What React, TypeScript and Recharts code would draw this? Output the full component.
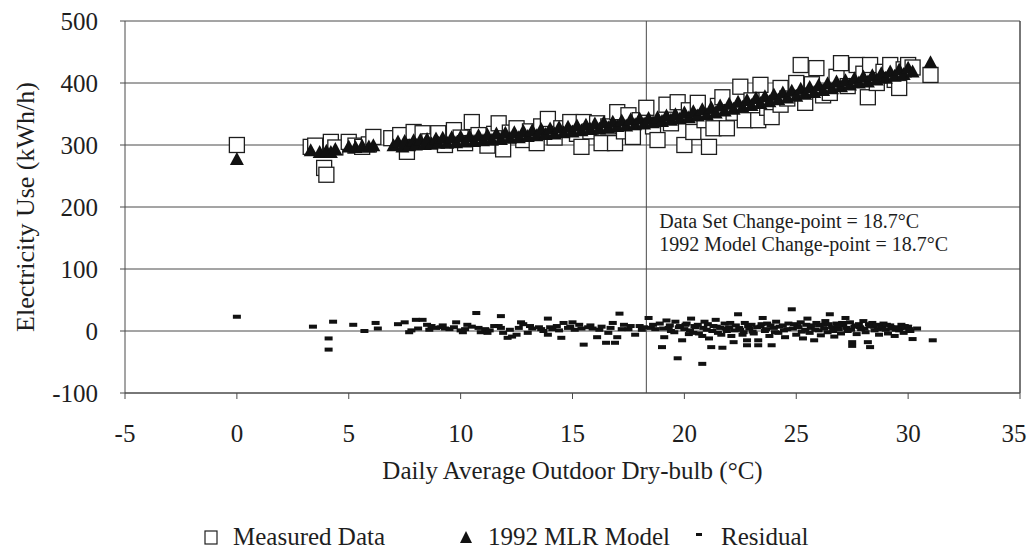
import {
  ScatterChart,
  Scatter,
  XAxis,
  YAxis,
  CartesianGrid,
  ReferenceLine,
  ReferenceDot,
  Legend,
} from 'recharts';

// Scanned figure look - serif text, grey rules, black marks
const FONT = "'Liberation Serif', 'Times New Roman', Times, serif";
const INK = '#1e1e1e';
const RULE = '#4a4a4a';
const TEXT_STYLE = { fontFamily: FONT, fill: INK };

const X_TICKS = [-5, 0, 5, 10, 15, 20, 25, 30, 35];
const Y_TICKS = [-100, 0, 100, 200, 300, 400, 500];
const CHANGE_POINT_X = 18.3;
const NOTES = ['Data Set Change-point = 18.7°C', '1992 Model Change-point = 18.7°C'];
const NOTE_Y = [177, 140];
const SERIES_NAMES = ['Measured Data', '1992 MLR Model', 'Residual'];
const X_TITLE = 'Daily Average Outdoor Dry-bulb (°C)';
const Y_TITLE = 'Electricity Use (kWh/h)';

// [temperature °C, kWh/h]
const measured: [number, number][] = [
  [0.0, 300],
  [3.3, 297], [3.5, 299], [3.9, 263], [4.0, 252], [4.2, 305], [4.4, 296],
  [5.0, 305], [5.3, 299], [5.6, 297], [5.9, 301], [6.1, 313],
  [6.9, 311], [7.3, 316], [7.6, 289], [7.9, 321], [8.3, 319], [8.6, 306], [9.0, 319], [9.3, 300],
  [9.7, 324], [10.0, 312], [10.2, 303], [10.5, 337], [10.8, 316], [11.2, 299], [11.5, 318], [11.7, 335],
  [11.9, 293], [12.2, 320], [12.5, 327], [12.8, 308], [13.1, 322], [13.4, 303], [13.6, 330], [13.9, 342],
  [14.2, 312], [14.5, 327], [14.9, 337], [15.2, 318], [15.4, 297], [15.5, 337], [15.8, 322], [16.1, 335],
  [16.3, 303], [16.6, 330], [16.9, 303], [17.0, 353], [17.3, 322], [17.5, 348], [17.7, 313], [18.0, 340],
  [18.3, 360], [18.6, 330], [18.8, 308], [19.2, 365], [19.4, 335], [19.7, 369], [20.0, 300], [20.2, 356],
  [20.4, 321], [20.6, 368], [20.9, 340], [21.1, 297], [21.3, 327], [21.5, 363], [21.7, 377], [21.9, 327],
  [22.2, 352], [22.5, 394], [22.7, 340], [23.0, 372], [23.3, 340], [23.4, 397], [23.7, 360], [23.9, 345],
  [24.3, 392], [24.3, 365], [24.6, 375], [25.0, 400], [25.2, 429], [25.4, 368], [25.7, 398], [25.9, 424],
  [26.2, 380], [26.5, 384], [26.8, 410], [27.0, 432], [27.3, 395], [27.7, 429], [28.0, 415], [28.2, 377],
  [28.3, 429], [28.6, 400], [28.9, 418], [29.2, 429], [29.4, 405], [29.6, 392], [29.8, 422], [30.0, 429],
  [30.2, 425], [31.0, 413],
];

const model: [number, number][] = [
  [0.0, 276],
  [3.3, 290], [3.7, 287], [4.0, 289], [4.2, 287], [4.4, 292],
  [5.0, 296], [5.3, 295], [5.6, 297], [5.9, 296], [6.1, 298],
  [7.0, 298], [7.2, 304], [7.4, 296], [7.5, 305], [7.7, 298], [7.9, 306], [8.0, 299], [8.2, 307],
  [8.4, 300], [8.5, 308], [8.7, 301], [8.9, 309], [9.0, 302], [9.2, 310], [9.4, 302], [9.6, 311],
  [9.8, 303], [10.0, 312], [10.2, 304], [10.4, 313], [10.6, 305], [10.8, 314], [11.0, 306], [11.2, 315],
  [11.4, 307], [11.6, 317], [11.8, 308], [12.0, 318], [12.2, 310], [12.4, 319], [12.6, 311], [12.8, 321],
  [13.0, 313], [13.2, 322], [13.4, 314], [13.6, 324], [13.8, 316], [14.0, 325], [14.2, 317], [14.4, 327],
  [14.6, 319], [14.8, 328], [15.0, 320], [15.2, 330], [15.4, 322], [15.6, 331], [15.8, 324], [16.0, 333],
  [16.2, 325], [16.4, 335], [16.6, 327], [16.8, 336], [17.0, 329], [17.2, 338], [17.4, 330], [17.6, 340],
  [17.8, 332], [18.0, 341], [18.2, 333], [18.4, 342], [18.6, 335], [18.8, 343],
  [19.0, 337], [19.2, 346], [19.4, 339], [19.6, 348], [19.8, 341], [20.0, 351], [20.2, 343], [20.4, 353],
  [20.6, 346], [20.8, 356], [21.0, 348], [21.2, 359], [21.4, 351], [21.6, 362], [21.8, 354], [22.0, 365],
  [22.2, 357], [22.4, 368], [22.6, 360], [22.8, 371], [23.0, 363], [23.2, 374], [23.4, 366], [23.6, 377],
  [23.8, 369], [24.0, 380], [24.2, 372], [24.4, 383], [24.6, 375], [24.8, 386], [25.0, 378], [25.2, 389],
  [25.4, 381], [25.6, 392], [25.8, 384], [26.0, 395], [26.2, 387], [26.4, 398], [26.6, 390], [26.8, 401],
  [27.0, 393], [27.2, 403], [27.4, 396], [27.6, 406], [27.8, 399], [28.0, 409], [28.2, 401], [28.4, 411],
  [28.6, 404], [28.8, 414], [29.0, 407], [29.2, 417], [29.4, 410], [29.6, 420], [29.8, 413], [30.0, 423],
  [30.2, 417], [31.0, 432],
];

const residual: [number, number][] = [
  [0.0, 23],
  [3.4, 7], [4.1, -12], [4.1, -30], [4.3, 15], [5.2, 10], [5.7, 0], [6.2, 13], [6.3, 4],
  [7.2, 11], [7.5, 14], [7.7, -2], [7.8, 1], [8.0, 18], [8.1, 4], [8.3, 18], [8.5, 10], [8.6, 2],
  [8.7, 8], [8.9, 5], [9.1, 6], [9.2, 9], [9.3, 4], [9.5, 3], [9.7, 6], [9.8, 14], [10.0, 1],
  [10.1, -2], [10.2, 3], [10.3, 10], [10.5, 7], [10.7, 29], [10.8, 5], [10.9, -2], [11.1, 3],
  [11.2, -3], [11.3, 1], [11.5, 8], [11.7, 8], [11.8, 5], [11.8, 24], [11.9, -3], [12.1, -11],
  [12.2, 2], [12.3, -9], [12.5, -6], [12.6, 5], [12.7, 14], [12.8, 11], [13.0, -3], [13.1, 8],
  [13.2, 4], [13.5, 6], [13.6, 3], [13.7, 0], [13.9, 20], [13.9, -6], [14.0, 6], [14.1, 3],
  [14.3, 8], [14.4, 1], [14.5, -11], [14.6, 13], [14.8, 5], [14.9, 7], [15.0, 14], [15.1, 2],
  [15.3, 10], [15.4, 4], [15.5, -22], [15.7, 6], [15.8, 9], [15.9, 4], [16.1, -10], [16.2, 2],
  [16.3, 7], [16.5, -19], [16.6, -3], [16.7, 5], [16.8, 13], [16.9, -19], [17.0, -10], [17.1, 28],
  [17.2, 3], [17.3, 10], [17.5, 3], [17.6, 8], [17.8, -6], [18.0, 8], [18.1, 2], [18.2, 6],
  [18.4, 21], [18.5, 5], [18.6, 10], [18.7, 3],
  [18.9, 12], [19.0, -26], [19.05, 4], [19.1, -10], [19.2, 17], [19.3, 5], [19.35, 9], [19.4, 0],
  [19.55, -2], [19.6, 15], [19.7, -44], [19.75, 6], [19.8, 8], [19.9, -15], [20.0, 3], [20.05, 10],
  [20.1, 12], [20.2, -5], [20.25, 1], [20.3, 20], [20.4, -3], [20.45, 8], [20.5, 6], [20.6, 10],
  [20.65, -4], [20.8, -53], [20.8, -8], [20.85, 5], [20.9, 15], [21.0, 2], [21.05, 11], [21.1, -12],
  [21.2, -26], [21.25, 0], [21.3, 8], [21.4, 18], [21.45, 7], [21.5, -3], [21.6, 5], [21.65, -6],
  [21.7, -27], [21.8, 12], [21.85, 4], [21.9, 0], [22.0, 6], [22.05, 13], [22.1, -8], [22.2, -18],
  [22.25, 1], [22.3, 9], [22.4, 27], [22.45, 5], [22.5, 2], [22.6, -6], [22.65, -2], [22.7, 13],
  [22.8, -15], [22.8, -23], [22.85, 8], [22.9, 4], [23.0, 10], [23.05, -1], [23.1, -4], [23.25, 6],
  [23.3, -15], [23.3, -23], [23.4, 7], [23.45, 11], [23.5, 21], [23.6, 0], [23.65, 3], [23.7, 12],
  [23.8, -8], [23.85, 9], [23.9, -23], [24.0, 5], [24.05, -2], [24.1, 15], [24.2, -3], [24.25, 7],
  [24.4, 9], [24.45, 1], [24.5, -10], [24.6, 3], [24.65, 12], [24.8, 35], [24.85, 4], [24.9, 11],
  [25.0, -6], [25.05, 8], [25.1, 6], [25.2, 14], [25.25, -1], [25.3, -12], [25.4, 2], [25.45, 10],
  [25.5, 20], [25.6, -3], [25.65, 5], [25.7, 9], [25.8, -15], [25.85, 2], [25.9, 13], [26.0, 1],
  [26.05, 9], [26.1, -7], [26.2, 10], [26.25, 4], [26.3, 16], [26.4, -2], [26.45, 11], [26.5, 27],
  [26.6, 6], [26.65, 0], [26.7, -9], [26.8, 12], [26.85, 7], [26.9, 3], [27.0, -4], [27.05, 13],
  [27.1, 9], [27.2, 21], [27.25, 5], [27.3, 0], [27.4, 14], [27.45, 2], [27.5, -18], [27.5, -24],
  [27.6, 7], [27.65, 9], [27.7, -5], [27.8, 11], [27.85, 6], [27.9, 3], [28.0, 16], [28.05, 4],
  [28.1, -2], [28.2, -18], [28.25, 11], [28.3, -26], [28.3, 8], [28.4, 13], [28.45, 7], [28.5, 1],
  [28.6, 10], [28.65, 3], [28.7, -6], [28.8, 5], [28.85, 8], [28.9, 12], [29.0, 2], [29.05, 10],
  [29.1, -4], [29.2, 9], [29.25, 6], [29.3, 4], [29.4, -8], [29.45, 2], [29.5, 6], [29.6, 1],
  [29.65, 5], [29.7, 10], [29.8, -3], [29.85, 8], [29.9, 5], [30.0, 7], [30.05, 3], [30.1, 0],
  [30.2, -13], [30.4, 4], [31.1, -15],
];

const toPoints = (rows: [number, number][]) => rows.map(([x, y]) => ({ x, y }));

function SquareMark(props: any) {
  const { cx, cy } = props;
  if (cx == null || cy == null) return null;
  return <rect x={cx - 7.5} y={cy - 7.5} width={15} height={15} fill="#fff" stroke={INK} strokeWidth={1.3} />;
}

function TriangleMark(props: any) {
  const { cx, cy } = props;
  if (cx == null || cy == null) return null;
  return <path d={`M${cx},${cy - 8}L${cx + 7},${cy + 5}L${cx - 7},${cy + 5}Z`} fill="#111" />;
}

function DashMark(props: any) {
  const { cx, cy } = props;
  if (cx == null || cy == null) return null;
  return <rect x={cx - 4} y={cy - 2} width={8} height={4} fill="#111" />;
}

// keeps the last x label inside the frame
function XTick(props: any) {
  const { x, y, payload } = props;
  const shift = payload.value === X_TICKS[X_TICKS.length - 1] ? -6 : 0;
  return (
    <text x={x + shift} y={y} dy="0.71em" textAnchor="middle" style={{ ...TEXT_STYLE, fontSize: 25 }}>
      {payload.value}
    </text>
  );
}

function YTick(props: any) {
  const { x, y, payload } = props;
  return (
    <text x={x} y={y} dy="0.35em" textAnchor="end" style={{ ...TEXT_STYLE, fontSize: 25 }}>
      {payload.value}
    </text>
  );
}

function YTitle(props: any) {
  const { viewBox } = props;
  const cy = viewBox.y + viewBox.height / 2;
  return (
    <text
      x={25}
      y={cy}
      dy="0.35em"
      textAnchor="middle"
      transform={`rotate(-90, 25, ${cy})`}
      style={{ ...TEXT_STYLE, fontSize: 26 }}
    >
      {Y_TITLE}
    </text>
  );
}

function XTitle(props: any) {
  const { viewBox } = props;
  return (
    <text
      x={viewBox.x + viewBox.width / 2}
      y={viewBox.y + viewBox.height - 14}
      textAnchor="middle"
      style={{ ...TEXT_STYLE, fontSize: 25 }}
    >
      {X_TITLE}
    </text>
  );
}

function LegendBox() {
  const items = [
    { left: 202, icon: <rect x={3} y={4} width={12} height={13} fill="#fff" stroke={INK} strokeWidth={1.2} /> },
    { left: 457, icon: <path d="M9,4L15,16L3,16Z" fill="#111" /> },
    { left: 690, icon: <rect x={6} y={6} width={6} height={3} fill="#111" /> },
  ];
  return (
    <div style={{ position: 'relative', height: 65, fontSize: 25, color: INK, fontFamily: FONT }}>
      {items.map((it, i) => (
        <div
          key={SERIES_NAMES[i]}
          style={{ position: 'absolute', left: it.left, top: 30, height: 28, display: 'flex', alignItems: 'center', gap: 13 }}
        >
          <svg width={18} height={20}>{it.icon}</svg>
          <span style={{ lineHeight: '28px' }}>{SERIES_NAMES[i]}</span>
        </div>
      ))}
    </div>
  );
}

export default function App() {
  return (
    <div style={{ position: 'absolute', left: 0, top: 0, width: 1027, height: 558, background: '#fff', fontFamily: FONT }}>
      <ScatterChart width={1027} height={558} margin={{ top: 21, right: 7, left: 0, bottom: 0 }}>
        <CartesianGrid vertical={false} stroke={RULE} strokeWidth={1} />
        <XAxis
          type="number"
          dataKey="x"
          domain={[-5, 35]}
          ticks={X_TICKS}
          interval={0}
          height={100}
          tickSize={6}
          tickMargin={25}
          tick={<XTick />}
          axisLine={{ stroke: RULE }}
          tickLine={{ stroke: RULE }}
          label={<XTitle />}
        />
        <YAxis
          type="number"
          dataKey="y"
          domain={[-100, 500]}
          ticks={Y_TICKS}
          interval={0}
          width={125}
          tickSize={5}
          tickMargin={22}
          tick={<YTick />}
          axisLine={{ stroke: RULE }}
          tickLine={{ stroke: RULE }}
          label={<YTitle />}
        />
        <ReferenceLine x={CHANGE_POINT_X} stroke={RULE} strokeWidth={1} />
        <ReferenceLine x={35} stroke={RULE} strokeWidth={1.5} />
        {NOTES.map((note, i) => (
          <ReferenceDot
            key={note}
            x={CHANGE_POINT_X}
            y={NOTE_Y[i]}
            r={0}
            fill="none"
            stroke="none"
            label={{ value: note, position: 'right', offset: 13, fontSize: 20, fill: INK, fontFamily: FONT }}
          />
        ))}
        <Scatter name={SERIES_NAMES[0]} data={toPoints(measured)} shape={SquareMark} isAnimationActive={false} />
        <Scatter name={SERIES_NAMES[1]} data={toPoints(model)} shape={TriangleMark} isAnimationActive={false} />
        <Scatter name={SERIES_NAMES[2]} data={toPoints(residual)} shape={DashMark} isAnimationActive={false} />
        <Legend verticalAlign="bottom" content={() => <LegendBox />} />
      </ScatterChart>
    </div>
  );
}
